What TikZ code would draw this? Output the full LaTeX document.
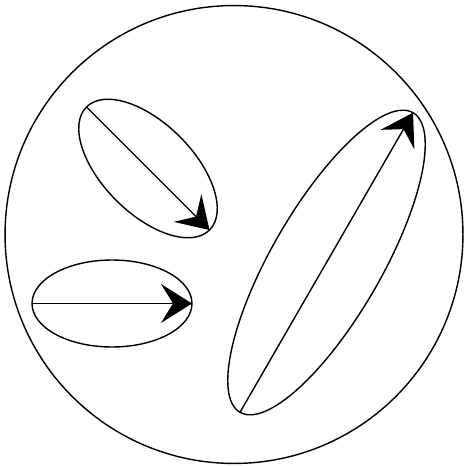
\documentclass[tikz,border=0pt]{standalone}
\usepackage{tikz}
\usetikzlibrary{arrows.meta, shapes.geometric}

\begin{document}
\begin{tikzpicture}[
    x=0.02cm, y=-0.02cm,
    cellwall/.style={draw, circle, line width=0.8pt, inner sep=0pt, outer sep=0pt},
    blob/.style={draw, ellipse, line width=0.8pt, inner sep=0pt, outer sep=0pt},
    arr/.style={-{Stealth[length=0.62cm, width=0.78cm, inset=0.24cm]}, line width=0.8pt},
  ]
    \useasboundingbox (0,0) rectangle (463,466);

    \node[cellwall, minimum size=9.16cm] (cell) at (234,234.5) {};

    \node[blob, minimum width=3.48cm, minimum height=1.8cm, rotate=-45]
      (upper) at (148,168.5) {};
    \node[blob, minimum width=3.2cm, minimum height=1.74cm]
      (lower) at (112,303.5) {};
    \node[blob, minimum width=6.92cm, minimum height=2.2cm, rotate=60]
      (long) at (326.5,262.5) {};

    \draw[arr] (upper.west) -- (upper.east);
    \draw[arr] (lower.west) -- (lower.east);
    \draw[arr] (long.west)  -- (long.east);
\end{tikzpicture}
\end{document}
